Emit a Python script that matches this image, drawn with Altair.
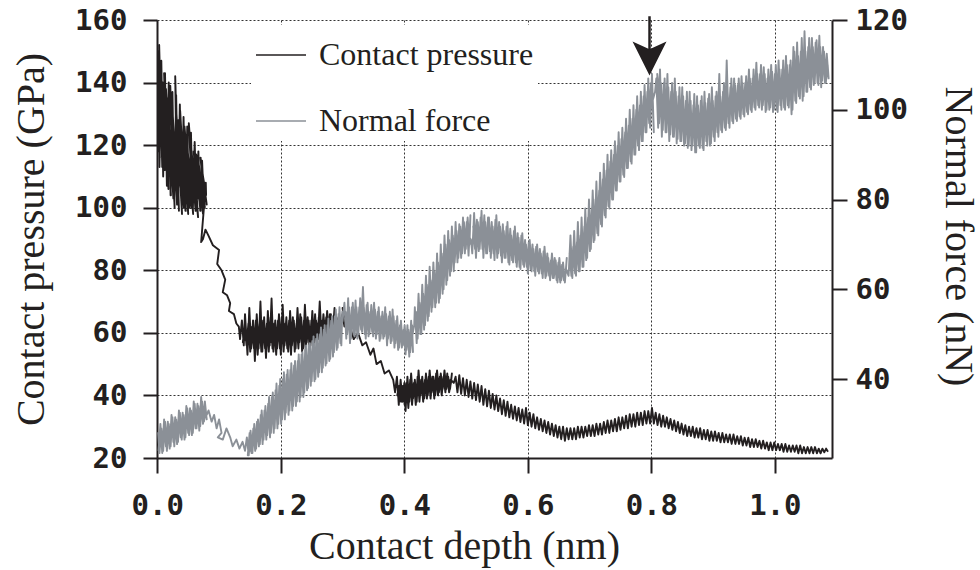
import altair as alt
import pandas as pd

# Contact pressure trace (depth nm, pressure GPa)
pressure_trace = [
    # dense band 0.00-0.08 nm
    (0.002, 150), (0.004, 116), (0.003, 152), (0.008, 113), (0.006, 146), (0.012, 112), (0.009, 140),
    (0.016, 108), (0.011, 143), (0.018, 106), (0.014, 138), (0.022, 104), (0.017, 135), (0.026, 103),
    (0.021, 139), (0.028, 100), (0.024, 134), (0.032, 101), (0.029, 142), (0.035, 99), (0.031, 130),
    (0.040, 98), (0.034, 128), (0.043, 100), (0.037, 131), (0.046, 99), (0.041, 124), (0.050, 98),
    (0.044, 126), (0.055, 100), (0.048, 121), (0.058, 98), (0.051, 127), (0.062, 99), (0.055, 119),
    (0.066, 97), (0.059, 118), (0.070, 99), (0.063, 117), (0.074, 98), (0.067, 114), (0.077, 100),
    (0.070, 116), (0.080, 101), (0.074, 110), (0.079, 104),
    (0.0785, 108), (0.0755, 101), (0.0725, 115), (0.0695, 99), (0.0665, 118), (0.0635, 100), (0.0605, 121),
    (0.0575, 99), (0.0545, 124), (0.0515, 100), (0.0485, 126), (0.0455, 99), (0.0425, 129), (0.0395, 100),
    (0.0365, 133), (0.0335, 101), (0.0305, 136), (0.0275, 102), (0.0245, 137), (0.0215, 104), (0.0185, 140),
    (0.0155, 107), (0.0125, 143), (0.0095, 110), (0.0065, 147), (0.0035, 113), (0.0015, 150), (0.001, 118),
    (0.003, 135), (0.006, 132), (0.010, 122), (0.014, 128), (0.018, 115), (0.022, 124), (0.026, 110),
    (0.030, 120), (0.034, 106), (0.038, 118), (0.042, 105), (0.046, 116), (0.050, 104), (0.054, 113),
    (0.058, 103), (0.062, 111), (0.066, 103), (0.070, 109), (0.074, 102), (0.078, 106),
    # thin descent
    (0.073, 94), (0.071, 89), (0.074, 90), (0.078, 93), (0.083, 91), (0.090, 88), (0.100, 86.5),
    (0.097, 82), (0.104, 80), (0.110, 77), (0.106, 73), (0.113, 72), (0.118, 69.5), (0.116, 67),
    (0.124, 66), (0.128, 63), (0.132, 62), (0.134, 58),
    # dense band around 60 GPa
    (0.137, 64), (0.140, 56), (0.142, 66), (0.146, 53), (0.149, 68), (0.152, 55), (0.155, 64),
    (0.158, 51), (0.161, 66), (0.164, 55), (0.167, 70), (0.170, 54), (0.173, 65), (0.176, 52),
    (0.179, 67), (0.182, 56), (0.185, 71), (0.188, 54), (0.191, 64), (0.194, 55), (0.197, 66),
    (0.200, 53), (0.203, 69), (0.206, 56), (0.209, 65), (0.212, 54), (0.215, 67), (0.218, 56),
    (0.221, 64), (0.224, 55), (0.227, 68), (0.230, 57), (0.233, 65), (0.236, 55), (0.239, 69),
    (0.242, 57), (0.245, 64), (0.248, 56), (0.251, 67), (0.254, 57), (0.257, 64), (0.260, 58),
    (0.263, 70), (0.266, 58), (0.269, 66), (0.272, 59), (0.275, 67), (0.278, 60), (0.281, 66),
    (0.284, 59), (0.287, 68),
    (0.2855, 64), (0.2825, 58), (0.2795, 66), (0.2765, 57), (0.2735, 65), (0.2705, 57), (0.2675, 64),
    (0.2645, 56), (0.2615, 65), (0.2585, 56), (0.2555, 66), (0.2525, 55), (0.2495, 64), (0.2465, 55),
    (0.2435, 65), (0.2405, 54), (0.2375, 64), (0.2345, 54), (0.2315, 66), (0.2285, 55), (0.2255, 63),
    (0.2225, 54), (0.2195, 65), (0.2165, 53), (0.2135, 64), (0.2105, 55), (0.2075, 63), (0.2045, 54),
    (0.2015, 65), (0.1985, 55), (0.1955, 64), (0.1925, 53), (0.1895, 63), (0.1865, 55), (0.1835, 65),
    (0.1805, 54), (0.1775, 63), (0.1745, 55), (0.1715, 64), (0.1685, 54), (0.1655, 63), (0.1625, 53),
    (0.1595, 64), (0.1565, 55), (0.1535, 62), (0.1505, 54), (0.1475, 63), (0.1445, 56), (0.1415, 62),
    (0.1385, 57),
    (0.150, 61), (0.155, 57), (0.160, 62), (0.165, 57), (0.170, 61), (0.175, 58), (0.180, 62),
    (0.185, 57), (0.190, 61), (0.195, 58), (0.200, 62), (0.205, 57), (0.210, 61), (0.215, 58),
    (0.220, 62), (0.225, 58), (0.230, 62), (0.235, 58), (0.240, 62), (0.245, 59), (0.250, 63),
    (0.255, 59), (0.260, 63), (0.265, 60), (0.270, 64), (0.275, 60), (0.280, 64), (0.285, 61),
    (0.290, 65), (0.295, 62), (0.300, 66), (0.303, 62), (0.300, 68), (0.308, 63),
    # descent to 45 GPa
    (0.312, 62), (0.318, 58), (0.325, 60), (0.332, 56), (0.338, 57), (0.345, 53), (0.350, 55),
    (0.355, 50), (0.362, 51), (0.368, 47), (0.375, 48), (0.382, 45),
    # dense band around 43 GPa
    (0.385, 41), (0.388, 46), (0.391, 37), (0.394, 45), (0.397, 38), (0.400, 44), (0.402, 35),
    (0.405, 46), (0.408, 38), (0.411, 47), (0.414, 39), (0.417, 45), (0.420, 38), (0.423, 48),
    (0.426, 40), (0.429, 46), (0.432, 39), (0.435, 47), (0.438, 40), (0.441, 48), (0.444, 41),
    (0.447, 46), (0.450, 40), (0.453, 48), (0.456, 41), (0.459, 47), (0.462, 42), (0.465, 48),
    (0.468, 42), (0.471, 46), (0.474, 42), (0.477, 47),
    (0.4755, 44), (0.4725, 41), (0.4695, 47), (0.4665, 41), (0.4635, 46), (0.4605, 40), (0.4575, 46),
    (0.4545, 40), (0.4515, 47), (0.4485, 39), (0.4455, 46), (0.4425, 39), (0.4395, 46), (0.4365, 39),
    (0.4335, 45), (0.4305, 38), (0.4275, 45), (0.4245, 38), (0.4215, 46), (0.4185, 37), (0.4155, 44),
    (0.4125, 37), (0.4095, 45), (0.4065, 36), (0.4035, 44), (0.4005, 37), (0.3975, 43), (0.3945, 38),
    (0.3915, 43), (0.3885, 40),
    (0.395, 42), (0.400, 40), (0.405, 42), (0.410, 40), (0.415, 43), (0.420, 41), (0.425, 43),
    (0.430, 41), (0.435, 44), (0.440, 42), (0.445, 44), (0.450, 42), (0.455, 45), (0.460, 43),
    (0.465, 45), (0.470, 43), (0.475, 45), (0.480, 44),
    # descent to ~27 GPa
    (0.483, 46), (0.486, 41), (0.489, 46.5), (0.492, 40.5), (0.495, 45.5), (0.498, 40), (0.501, 45),
    (0.504, 39.5), (0.507, 44.5), (0.510, 39), (0.513, 44), (0.516, 38.5), (0.519, 43.5), (0.522, 38),
    (0.525, 43), (0.528, 37), (0.531, 42), (0.534, 36.5), (0.537, 41.5), (0.540, 36), (0.543, 40.5),
    (0.546, 35.5), (0.549, 40), (0.552, 35), (0.555, 39), (0.558, 34), (0.561, 38.5), (0.564, 33.5),
    (0.567, 38), (0.570, 33), (0.573, 37), (0.576, 32.5), (0.579, 36.5), (0.582, 32), (0.585, 36),
    (0.588, 31.5), (0.591, 35.5), (0.594, 31), (0.597, 36), (0.600, 30.5), (0.603, 34.5), (0.606, 30),
    (0.609, 34), (0.612, 29.5), (0.615, 33), (0.618, 29), (0.621, 32.5), (0.624, 28.5), (0.627, 32),
    (0.630, 28), (0.633, 31.5), (0.636, 27.5), (0.639, 31), (0.642, 27), (0.645, 30.5), (0.648, 26.5),
    (0.651, 30), (0.654, 26), (0.657, 30), (0.660, 25.5), (0.663, 29.5), (0.666, 26),
    # hump at 0.8 nm
    (0.669, 29.5), (0.672, 26), (0.675, 29.5), (0.678, 26), (0.681, 30), (0.684, 26.5), (0.687, 30),
    (0.690, 26.5), (0.693, 30), (0.696, 27), (0.699, 30.5), (0.702, 27), (0.705, 30.5), (0.708, 27),
    (0.711, 31), (0.714, 27.5), (0.717, 31), (0.720, 27.5), (0.723, 31.5), (0.726, 28), (0.729, 32),
    (0.732, 28), (0.735, 32), (0.738, 28.5), (0.741, 32.5), (0.744, 28.5), (0.747, 33), (0.750, 29),
    (0.753, 33), (0.756, 29.5), (0.759, 33.5), (0.762, 29.5), (0.765, 34), (0.768, 30), (0.771, 34),
    (0.774, 30), (0.777, 34.5), (0.780, 30.5), (0.783, 34.5), (0.786, 30.5), (0.789, 35), (0.792, 31),
    (0.795, 35), (0.798, 31), (0.801, 36), (0.804, 31), (0.807, 34.5), (0.810, 30.5),
    # final decline
    (0.813, 34), (0.816, 30), (0.819, 33.5), (0.822, 30), (0.825, 33), (0.828, 29.5), (0.831, 32.5),
    (0.834, 29), (0.837, 32), (0.840, 28.5), (0.843, 31.5), (0.846, 28), (0.849, 31), (0.852, 27.5),
    (0.855, 30.5), (0.858, 27), (0.861, 30), (0.864, 27), (0.867, 30), (0.870, 26.5), (0.873, 29.5),
    (0.876, 26.5), (0.879, 29.5), (0.882, 26), (0.885, 29), (0.888, 26), (0.891, 29), (0.894, 25.5),
    (0.897, 28.5), (0.900, 25.5), (0.903, 28.5), (0.906, 25.5), (0.909, 28), (0.912, 25), (0.915, 28),
    (0.918, 25), (0.921, 27.5), (0.924, 25), (0.927, 27.5), (0.930, 24.5), (0.933, 27.5), (0.936, 24.5),
    (0.939, 27), (0.942, 24.5), (0.945, 27), (0.948, 24), (0.951, 26.5), (0.954, 24), (0.957, 26.5),
    (0.960, 23.5), (0.963, 26), (0.966, 23.5), (0.969, 26), (0.972, 23.5), (0.975, 25.5), (0.978, 23),
    (0.981, 25.5), (0.984, 23), (0.987, 25), (0.990, 22.5), (0.993, 25), (0.996, 22.5), (0.999, 25),
    (1.002, 22.5), (1.005, 24.5), (1.008, 22.5), (1.011, 24.5), (1.014, 22), (1.017, 24.5), (1.020, 22),
    (1.023, 24), (1.026, 22), (1.029, 24), (1.032, 22), (1.035, 24), (1.038, 21.5), (1.041, 24),
    (1.044, 21.5), (1.047, 23.5), (1.050, 21.5), (1.053, 23.5), (1.056, 21.5), (1.059, 23.5), (1.062, 21.5),
    (1.065, 23.5), (1.068, 21.5), (1.071, 23), (1.074, 21.5), (1.077, 23), (1.080, 21.8), (1.083, 23),
    (1.086, 22),
]

# Normal force trace (depth nm, force nN)
force_trace = [
    (0.002, 24), (0.005, 30), (0.008, 23.5), (0.011, 31), (0.014, 25), (0.017, 30.5), (0.020, 24.5),
    (0.023, 32), (0.026, 26), (0.029, 31.5), (0.032, 25.5), (0.035, 33), (0.038, 27), (0.041, 32.5),
    (0.044, 26.5), (0.047, 34), (0.050, 28), (0.053, 33.5), (0.056, 27.5), (0.059, 35), (0.062, 29),
    (0.065, 34.5), (0.068, 28.5), (0.071, 36), (0.074, 30), (0.077, 35), (0.080, 31),
    (0.0785, 33), (0.0755, 30.5), (0.0725, 35), (0.0695, 29.5), (0.0665, 34), (0.0635, 29), (0.0605, 34.5),
    (0.0575, 28), (0.0545, 33), (0.0515, 27.5), (0.0485, 33.5), (0.0455, 27), (0.0425, 32), (0.0395, 26.5),
    (0.0365, 32.5), (0.0335, 26), (0.0305, 31), (0.0275, 25), (0.0245, 31.5), (0.0215, 25), (0.0185, 30),
    (0.0155, 24), (0.0125, 30.5), (0.0095, 24), (0.0065, 29), (0.0035, 23.5), (0.0015, 28),
    (0.008, 26.5), (0.014, 28.5), (0.020, 27.5), (0.026, 29.5), (0.032, 28.5), (0.038, 30.5), (0.044, 29.5),
    (0.050, 31.5), (0.056, 30.5), (0.062, 32.5), (0.068, 31.5), (0.074, 33), (0.080, 32),
    (0.083, 33), (0.088, 30.5), (0.092, 32), (0.096, 29), (0.100, 31), (0.104, 28), (0.098, 27),
    (0.106, 26.5), (0.112, 29), (0.118, 27), (0.122, 25), (0.128, 26.5), (0.133, 24.5), (0.138, 26),
    (0.142, 24),
    (0.145, 27), (0.148, 23), (0.151, 28.5), (0.154, 23.5), (0.157, 30), (0.160, 24.5), (0.163, 31),
    (0.166, 25.5), (0.169, 33), (0.172, 26.5), (0.175, 34), (0.178, 27.5), (0.181, 36), (0.184, 28),
    (0.187, 37), (0.190, 29), (0.193, 39), (0.196, 30), (0.199, 40), (0.202, 31), (0.205, 41.5),
    (0.208, 32.5), (0.211, 42), (0.214, 33), (0.217, 43.5), (0.220, 34), (0.223, 44), (0.226, 35),
    (0.229, 45.5), (0.232, 36), (0.235, 46), (0.238, 37), (0.241, 47.5), (0.244, 38), (0.247, 48),
    (0.250, 39.5), (0.253, 49.5), (0.256, 40), (0.259, 50), (0.262, 41.5), (0.265, 51.5), (0.268, 42.5),
    (0.271, 52), (0.274, 43.5), (0.277, 53.5), (0.280, 44.5), (0.283, 54), (0.286, 46), (0.289, 55.5),
    (0.292, 47), (0.295, 56), (0.298, 47.5),
    (0.2995, 55), (0.2965, 48), (0.2935, 54.5), (0.2905, 46.5), (0.2875, 54), (0.2845, 45), (0.2815, 53),
    (0.2785, 44), (0.2755, 52), (0.2725, 43), (0.2695, 51), (0.2665, 41.5), (0.2635, 50), (0.2605, 40.5),
    (0.2575, 49), (0.2545, 39.5), (0.2515, 48.5), (0.2485, 38.5), (0.2455, 47.5), (0.2425, 37.5),
    (0.2395, 46.5), (0.2365, 36), (0.2335, 45.5), (0.2305, 35), (0.2275, 44), (0.2245, 34), (0.2215, 43),
    (0.2185, 33), (0.2155, 42), (0.2125, 32), (0.2095, 41), (0.2065, 31), (0.2035, 40), (0.2005, 30),
    (0.1975, 38.5), (0.1945, 29), (0.1915, 37.5), (0.1885, 28), (0.1855, 36), (0.1825, 27), (0.1795, 34.5),
    (0.1765, 26.5), (0.1735, 33), (0.1705, 25.5), (0.1675, 32), (0.1645, 25), (0.1615, 30.5), (0.1585, 24),
    (0.1555, 29), (0.1525, 23.5), (0.1495, 28), (0.1465, 23),
    (0.152, 25), (0.158, 28), (0.164, 27), (0.170, 30), (0.176, 29), (0.182, 32.5), (0.188, 31.5),
    (0.194, 35), (0.200, 34), (0.206, 37.5), (0.212, 36.5), (0.218, 40), (0.224, 39), (0.230, 42),
    (0.236, 41), (0.242, 44), (0.248, 43), (0.254, 46), (0.260, 45), (0.266, 48), (0.272, 47),
    (0.278, 50), (0.284, 49), (0.290, 52), (0.296, 51), (0.300, 53),
    (0.303, 57), (0.306, 49), (0.309, 58), (0.312, 48), (0.315, 56), (0.318, 50), (0.321, 57.5),
    (0.324, 49), (0.327, 56), (0.330, 51), (0.333, 60.5), (0.336, 50), (0.339, 56.5), (0.342, 49.5),
    (0.345, 55), (0.348, 50.5), (0.351, 57), (0.354, 49), (0.357, 55), (0.360, 48.5), (0.363, 54),
    (0.366, 49), (0.369, 56), (0.372, 47.5), (0.375, 54), (0.378, 48), (0.381, 55.5), (0.384, 47),
    (0.387, 53), (0.390, 46.5), (0.393, 52), (0.396, 47), (0.399, 51), (0.402, 45.5), (0.405, 52),
    (0.408, 45), (0.411, 53), (0.414, 46),
    (0.4125, 52), (0.4095, 46), (0.4065, 51), (0.4035, 46.5), (0.4005, 52), (0.3975, 47.5), (0.3945, 53),
    (0.3915, 47), (0.3885, 54), (0.3855, 48), (0.3825, 54), (0.3795, 48.5), (0.3765, 55), (0.3735, 49),
    (0.3705, 54.5), (0.3675, 49.5), (0.3645, 55), (0.3615, 49), (0.3585, 56), (0.3555, 50), (0.3525, 55.5),
    (0.3495, 49.5), (0.3465, 56.5), (0.3435, 50), (0.3405, 57), (0.3375, 49), (0.3345, 56), (0.3315, 50.5),
    (0.3285, 58), (0.3255, 50), (0.3225, 56), (0.3195, 49.5), (0.3165, 57), (0.3135, 49), (0.3105, 56),
    (0.3075, 50), (0.3045, 55),
    (0.308, 53), (0.316, 52), (0.324, 54), (0.332, 52.5), (0.340, 53.5), (0.348, 52), (0.356, 53),
    (0.364, 51), (0.372, 52), (0.380, 50.5), (0.388, 51), (0.396, 49.5), (0.404, 50), (0.412, 49),
    (0.416, 52),
    (0.417, 56), (0.420, 48), (0.423, 59), (0.426, 50), (0.429, 61), (0.432, 51), (0.435, 63),
    (0.438, 53), (0.441, 65), (0.444, 55), (0.447, 66), (0.450, 56), (0.453, 68), (0.456, 57),
    (0.459, 70), (0.462, 59), (0.465, 72), (0.468, 61), (0.471, 73), (0.474, 63), (0.477, 74),
    (0.480, 64), (0.483, 75), (0.486, 66), (0.489, 74.5), (0.492, 67), (0.495, 76), (0.498, 68),
    (0.501, 75), (0.504, 67.5), (0.507, 76.5),
    (0.5055, 70), (0.5025, 76), (0.4995, 69), (0.4965, 75), (0.4935, 68), (0.4905, 74), (0.4875, 67),
    (0.4845, 73), (0.4815, 66), (0.4785, 72), (0.4755, 64), (0.4725, 71), (0.4695, 62), (0.4665, 70),
    (0.4635, 60), (0.4605, 68), (0.4575, 58), (0.4545, 66), (0.4515, 57), (0.4485, 64), (0.4455, 56),
    (0.4425, 62), (0.4395, 54), (0.4365, 61), (0.4335, 52), (0.4305, 59), (0.4275, 50), (0.4245, 57),
    (0.4215, 49), (0.4185, 55),
    (0.424, 53), (0.430, 56.5), (0.436, 55.5), (0.442, 59.5), (0.448, 58.5), (0.454, 62.5), (0.460, 62),
    (0.466, 67), (0.472, 66.5), (0.478, 70), (0.484, 69), (0.490, 72), (0.496, 70.5), (0.502, 72.5),
    (0.508, 71),
    (0.510, 68), (0.513, 77), (0.516, 67), (0.519, 75), (0.522, 69), (0.525, 77.5), (0.528, 67),
    (0.531, 75), (0.534, 68), (0.537, 76), (0.540, 67), (0.543, 74), (0.546, 66.5), (0.549, 76.5),
    (0.552, 68), (0.555, 74), (0.558, 66), (0.561, 73), (0.564, 67), (0.567, 75), (0.570, 65.5),
    (0.573, 72), (0.576, 66), (0.579, 74), (0.582, 65), (0.585, 71.5), (0.588, 64.5), (0.591, 72.5),
    (0.594, 65), (0.597, 70), (0.600, 63.5), (0.603, 71), (0.606, 64), (0.609, 69), (0.612, 63),
    (0.615, 70), (0.618, 63.5), (0.621, 68), (0.624, 62.5), (0.627, 69.5), (0.630, 63), (0.633, 67),
    (0.636, 62), (0.639, 68), (0.642, 62.5), (0.645, 66.5), (0.648, 61.5), (0.651, 67), (0.654, 62),
    (0.657, 66), (0.660, 61.5), (0.663, 67),
    (0.6615, 64), (0.6585, 62), (0.6555, 65.5), (0.6525, 61.5), (0.6495, 66), (0.6465, 62), (0.6435, 67),
    (0.6405, 62.5), (0.6375, 66.5), (0.6345, 63), (0.6315, 68), (0.6285, 62.5), (0.6255, 68.5),
    (0.6225, 63.5), (0.6195, 69), (0.6165, 64), (0.6135, 69.5), (0.6105, 64), (0.6075, 70), (0.6045, 64.5),
    (0.6015, 70.5), (0.5985, 65), (0.5955, 71), (0.5925, 65.5), (0.5895, 72), (0.5865, 65), (0.5835, 72.5),
    (0.5805, 66), (0.5775, 73), (0.5745, 66.5), (0.5715, 73.5), (0.5685, 66), (0.5655, 74), (0.5625, 67),
    (0.5595, 74.5), (0.5565, 67.5), (0.5535, 75), (0.5505, 67), (0.5475, 75.5), (0.5445, 68), (0.5415, 75),
    (0.5385, 68.5), (0.5355, 76), (0.5325, 68), (0.5295, 76.5), (0.5265, 69), (0.5235, 76), (0.5205, 68.5),
    (0.5175, 75.5), (0.5145, 69), (0.5115, 74),
    (0.518, 72), (0.530, 71), (0.542, 72.5), (0.554, 70.5), (0.566, 71.5), (0.578, 69.5), (0.590, 69),
    (0.602, 67.5), (0.614, 67), (0.626, 65.5), (0.638, 65), (0.650, 64), (0.662, 64.5),
    (0.666, 63), (0.669, 72), (0.672, 62.5), (0.675, 73), (0.678, 63), (0.681, 75), (0.684, 64),
    (0.687, 76), (0.690, 65), (0.693, 78), (0.696, 67), (0.699, 80), (0.702, 69), (0.705, 82),
    (0.708, 71), (0.711, 84), (0.714, 72), (0.717, 86), (0.720, 74), (0.723, 88), (0.726, 76),
    (0.729, 90), (0.732, 78), (0.735, 91), (0.738, 80), (0.741, 93), (0.744, 82), (0.747, 95),
    (0.750, 84), (0.753, 96), (0.756, 85), (0.759, 98), (0.762, 87), (0.765, 100), (0.768, 88),
    (0.771, 101), (0.774, 90), (0.777, 103), (0.780, 91), (0.783, 104), (0.786, 93), (0.789, 105.5),
    (0.792, 95), (0.795, 107), (0.798, 96), (0.801, 108), (0.804, 95),
    (0.8025, 100), (0.7995, 106), (0.7965, 97), (0.7935, 104), (0.7905, 95), (0.7875, 103), (0.7845, 93),
    (0.7815, 101), (0.7785, 92), (0.7755, 100), (0.7725, 90), (0.7695, 98), (0.7665, 88.5), (0.7635, 96.5),
    (0.7605, 87), (0.7575, 95), (0.7545, 85.5), (0.7515, 93.5), (0.7485, 84), (0.7455, 92), (0.7425, 82),
    (0.7395, 90), (0.7365, 80), (0.7335, 88.5), (0.7305, 78.5), (0.7275, 86.5), (0.7245, 76.5),
    (0.7215, 84.5), (0.7185, 74.5), (0.7155, 82), (0.7125, 72.5), (0.7095, 80), (0.7065, 70.5), (0.7035, 78),
    (0.7005, 68.5), (0.6975, 76), (0.6945, 66.5), (0.6915, 74), (0.6885, 65), (0.6855, 72), (0.6825, 64),
    (0.6795, 70.5), (0.6765, 63.5), (0.6735, 69.5), (0.6705, 63), (0.6675, 68),
    (0.672, 65), (0.680, 69.5), (0.688, 68), (0.696, 73), (0.704, 72.5), (0.712, 78), (0.720, 78.5),
    (0.728, 84), (0.736, 84), (0.744, 89), (0.752, 89), (0.760, 93.5), (0.768, 93), (0.776, 98),
    (0.784, 97.5), (0.792, 102), (0.800, 101), (0.806, 104),
    (0.808, 107), (0.811, 96), (0.814, 109), (0.817, 94), (0.820, 106), (0.823, 95), (0.826, 108),
    (0.829, 93), (0.832, 104), (0.835, 94), (0.838, 107), (0.841, 92.5), (0.844, 103), (0.847, 93),
    (0.850, 105), (0.853, 92), (0.856, 102), (0.859, 91.5), (0.862, 104), (0.865, 91), (0.868, 101),
    (0.871, 90.5), (0.874, 103), (0.877, 92), (0.880, 102), (0.883, 91.5), (0.886, 104), (0.889, 93),
    (0.892, 102.5), (0.895, 92), (0.898, 105), (0.901, 94), (0.904, 103), (0.907, 95), (0.910, 108),
    (0.913, 95.5), (0.916, 104), (0.919, 96), (0.922, 111), (0.925, 97), (0.928, 105), (0.931, 97.5),
    (0.934, 107), (0.937, 98), (0.940, 105.5), (0.943, 98.5), (0.946, 107.5), (0.949, 99), (0.952, 106),
    (0.955, 99.5), (0.958, 109), (0.961, 100), (0.964, 107), (0.967, 100.5), (0.970, 110.5), (0.973, 101),
    (0.976, 108), (0.979, 100), (0.982, 109.5), (0.985, 99.5), (0.988, 107), (0.991, 100), (0.994, 110),
    (0.997, 99.5), (1.000, 108), (1.003, 100), (1.006, 111), (1.009, 101), (1.012, 109), (1.015, 100.5),
    (1.018, 112), (1.021, 101), (1.024, 110), (1.027, 99), (1.030, 114), (1.033, 102), (1.036, 115),
    (1.039, 103), (1.042, 113), (1.045, 102), (1.048, 117.5), (1.051, 104), (1.054, 114), (1.057, 105),
    (1.060, 116), (1.063, 105.5), (1.066, 115), (1.069, 106), (1.072, 116.5), (1.075, 105), (1.078, 114),
    (1.081, 106), (1.084, 112.5), (1.087, 107),
    (1.0855, 110), (1.0825, 106), (1.0795, 113), (1.0765, 106.5), (1.0735, 114), (1.0705, 105.5),
    (1.0675, 115.5), (1.0645, 106), (1.0615, 114), (1.0585, 104.5), (1.0555, 116), (1.0525, 104),
    (1.0495, 113), (1.0465, 103), (1.0435, 116), (1.0405, 102.5), (1.0375, 112), (1.0345, 101.5),
    (1.0315, 113), (1.0285, 100), (1.0255, 111), (1.0225, 100.5), (1.0195, 110), (1.0165, 100),
    (1.0135, 111), (1.0105, 100), (1.0075, 109), (1.0045, 99.5), (1.0015, 110), (0.9985, 100),
    (0.9955, 108.5), (0.9925, 100.5), (0.9895, 109), (0.9865, 100), (0.9835, 108), (0.9805, 101),
    (0.9775, 110), (0.9745, 100.5), (0.9715, 108), (0.9685, 100), (0.9655, 109), (0.9625, 99.5),
    (0.9595, 107), (0.9565, 99), (0.9535, 107.5), (0.9505, 98.5), (0.9475, 106), (0.9445, 98),
    (0.9415, 107), (0.9385, 97.5), (0.9355, 105.5), (0.9325, 97), (0.9295, 107), (0.9265, 96),
    (0.9235, 104), (0.9205, 95.5), (0.9175, 106), (0.9145, 95), (0.9115, 103), (0.9085, 94),
    (0.9055, 104), (0.9025, 93), (0.8995, 102), (0.8965, 92.5), (0.8935, 103.5), (0.8905, 92),
    (0.8875, 101.5), (0.8845, 91), (0.8815, 103), (0.8785, 91.5), (0.8755, 101), (0.8725, 90.5),
    (0.8695, 103.5), (0.8665, 92), (0.8635, 102), (0.8605, 92), (0.8575, 104), (0.8545, 92.5),
    (0.8515, 103), (0.8485, 93), (0.8455, 105), (0.8425, 93.5), (0.8395, 104), (0.8365, 94),
    (0.8335, 106), (0.8305, 94.5), (0.8275, 105), (0.8245, 95), (0.8215, 107), (0.8185, 95.5),
    (0.8155, 106), (0.8125, 97), (0.8095, 108),
    (0.815, 101), (0.825, 99), (0.835, 100.5), (0.845, 98), (0.855, 99), (0.865, 96.5), (0.875, 97.5),
    (0.885, 96), (0.895, 98), (0.905, 98), (0.915, 100.5), (0.925, 100.5), (0.935, 102.5), (0.945, 102),
    (0.955, 104), (0.965, 103.5), (0.975, 105.5), (0.985, 104), (0.995, 105.5), (1.005, 104.5),
    (1.015, 106), (1.025, 105.5), (1.035, 108), (1.045, 108.5), (1.055, 110), (1.065, 110.5),
    (1.075, 111), (1.085, 109.5),
]

series_names = ["Contact pressure", "Normal force"]
series_colors = ["#231f20", "#8b9097"]
x_ticks = [0.0, 0.2, 0.4, 0.6, 0.8, 1.0]
left_ticks = [20, 40, 60, 80, 100, 120, 140, 160]
right_ticks = [40, 60, 80, 100, 120]
x_domain = [-0.0005, 1.0925]
left_domain = [20, 160]
right_domain = [22.4, 120]

# arrow marking 0.8 nm (in contact-pressure units)
arrow_depth = [0.797]
arrow_top = [161.2]
arrow_base = [148.5]
arrow_head = [147.7]

INK = "#231f20"

dp = pd.DataFrame(pressure_trace, columns=["depth", "value"])
dp["i"] = range(len(dp))
dp["series"] = series_names[0]
df = pd.DataFrame(force_trace, columns=["depth", "value"])
df["i"] = range(len(df))
df["series"] = series_names[1]
da = pd.DataFrame({"depth": arrow_depth, "top": arrow_top, "base": arrow_base, "head": arrow_head})

xs = alt.Scale(domain=x_domain, nice=False, zero=False)
ls = alt.Scale(domain=left_domain, nice=False, zero=False)
rs = alt.Scale(domain=right_domain, nice=False, zero=False)

color = alt.Color(
    "series:N",
    scale=alt.Scale(domain=series_names, range=series_colors),
    legend=alt.Legend(
        orient="none", legendX=94, legendY=5, title=None,
        symbolType="stroke", symbolSize=2500, symbolStrokeWidth=1.6,
        labelFont="Liberation Serif", labelFontSize=32, labelColor=INK,
        labelOffset=12, rowPadding=24, padding=4, fillColor="white",
        labelLimit=500,
    ),
)

x_axis = alt.Axis(
    values=x_ticks, format=".1f", title="Contact depth (nm)", grid=True,
    tickSize=15, labelPadding=18, labelFlush=False, labelOverlap=False,
    titleX=307, titleY=100, titleBaseline="alphabetic", titleAlign="center",
)
X = alt.X("depth:Q", scale=xs, axis=x_axis)

black = alt.Chart(dp).mark_line(strokeWidth=1.9, strokeJoin="round").encode(
    x=X,
    y=alt.Y("value:Q", scale=ls, axis=alt.Axis(
        values=left_ticks, title="Contact pressure (GPa)", grid=True, orient="left",
        tickSize=14, labelPadding=16, titleAngle=270, titleX=-114, titleY=219,
        titleBaseline="alphabetic", titleAlign="center", labelOverlap=False)),
    color=color,
    order=alt.Order("i:Q"),
)

gray = alt.Chart(df).mark_line(strokeWidth=1.9, strokeJoin="round").encode(
    x=X,
    y=alt.Y("value:Q", scale=rs, axis=alt.Axis(
        values=right_ticks, title="Normal force (nN)", grid=False, orient="right",
        tickSize=15, labelPadding=8, titleAngle=90, titleX=113, titleY=216,
        titleBaseline="alphabetic", titleAlign="center", labelOverlap=False)),
    color=color,
    order=alt.Order("i:Q"),
)

shaft = alt.Chart(da).mark_rule(color=INK, strokeWidth=2.5).encode(
    x=X,
    y=alt.Y("top:Q", scale=ls, axis=None),
    y2="base:Q",
)
head = alt.Chart(da).mark_point(
    shape="M-1,-1L0,-0.55L1,-1L0,1Z", filled=True, size=1156, color=INK, opacity=1, strokeWidth=0
).encode(
    x=X,
    y=alt.Y("head:Q", scale=ls, axis=None),
)

chart = alt.layer(black, gray, shaft, head).resolve_scale(y="independent").properties(
    width=675, height=438,
    autosize=alt.AutoSizeParams(type="none"),
    padding={"left": 157, "top": 20, "right": 148, "bottom": 112},
    background="white",
).configure_view(stroke=None).configure_axis(
    domainColor=INK, domainWidth=2, tickColor=INK, tickWidth=2,
    labelFont="DejaVu Sans Mono", labelFontWeight="bold", labelFontSize=29, labelColor=INK,
    titleFont="Liberation Serif", titleFontWeight="normal", titleFontSize=40, titleColor=INK,
    gridColor="#333333", gridDash=[2, 2], gridWidth=1,
)

chart.save("out.html", embed_options={"renderer": "svg", "actions": False})
